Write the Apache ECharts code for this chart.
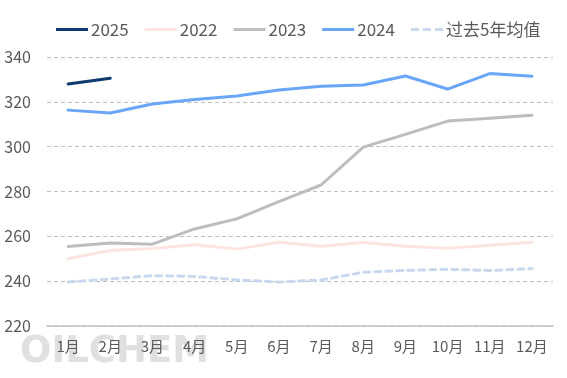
<!DOCTYPE html>
<html><head><meta charset="utf-8">
<script src="https://cdn.jsdelivr.net/npm/echarts@6/dist/echarts.min.js"></script>
<style>html,body{margin:0;padding:0;background:#fff}#c{width:567px;height:378px}</style>
</head><body><div id="c"></div>
<script>
const months = ['1月','2月','3月','4月','5月','6月','7月','8月','9月','10月','11月','12月'];
const s2025 = [328, 330.5];
const s2022 = [250, 253.7, 254.6, 256.2, 254.3, 257.4, 255.6, 257.3, 255.6, 254.7, 256, 257.4];
const s2023 = [255.5, 257, 256.5, 263.3, 267.8, 275.5, 282.9, 299.8, 305.5, 311.4, 312.7, 314];
const s2024 = [316.3, 315, 319, 321, 322.6, 325.3, 327, 327.5, 331.5, 325.7, 332.6, 331.4];
const avg5 = [239.6, 241, 242.5, 242.1, 240.6, 239.6, 240.5, 244, 244.8, 245.3, 244.8, 245.6];
const yTicks = {min: 220, max: 340, interval: 20};

const font = '"Noto Sans CJK SC", "Noto Sans", sans-serif';
const chart = echarts.init(document.getElementById('c'));
function line(name, data, color, dashed) {
  return {name, type: 'line', data, symbol: 'none', smooth: false,
    lineStyle: {color, width: 3, type: dashed ? [6, 5] : 'solid', cap: 'round'},
    itemStyle: {color}};
}
const solidIcon = 'path://M0,0h32v3h-32z';
const dashIcon = 'path://M0,0h8v3h-8zM12,0h8v3h-8zM24,0h8v3h-8z';
chart.setOption({
  animation: false,
  textStyle: {fontFamily: font},
  legend: {
    top: 16, left: 51, itemWidth: 32, itemHeight: 3, itemGap: 16,
    textStyle: {color: '#595959', fontSize: 17, fontFamily: font, padding: [0, 0, 0, -2]},
    data: [
      {name: '2025', icon: solidIcon},
      {name: '2022', icon: solidIcon},
      {name: '2023', icon: solidIcon},
      {name: '2024', icon: solidIcon},
      {name: '过去5年均值', icon: dashIcon}
    ]
  },
  grid: {left: 47, right: 14, top: 57, bottom: 52},
  xAxis: {
    type: 'category', data: months, boundaryGap: true,
    axisLine: {lineStyle: {color: '#BFBFBF', width: 1.5}},
    axisTick: {inside: true, length: 5, lineStyle: {color: '#BFBFBF'}},
    axisLabel: {color: '#595959', fontSize: 15, margin: 13, fontFamily: font}
  },
  yAxis: {
    type: 'value', min: yTicks.min, max: yTicks.max, interval: yTicks.interval,
    axisLine: {show: false}, axisTick: {show: false},
    axisLabel: {color: '#595959', fontSize: 16, margin: 16, fontFamily: font},
    splitLine: {lineStyle: {color: '#BFBFBF', type: [4, 3]}}
  },
  graphic: [{
    type: 'text', left: 20, top: 334, z: -10, silent: true,
    style: {text: 'OILCHEM', font: 'bold 37px "DejaVu Sans", sans-serif', fill: '#DDDDDD', opacity: 0.9}
  }],
  series: [
    line('2025', s2025, '#0E3A6E'),
    line('2022', s2022, '#FCE4E0'),
    line('2023', s2023, '#BDBDBD'),
    line('2024', s2024, '#6AA6F8'),
    line('过去5年均值', avg5, '#C8D9EF', true)
  ]
});
</script></body></html>
